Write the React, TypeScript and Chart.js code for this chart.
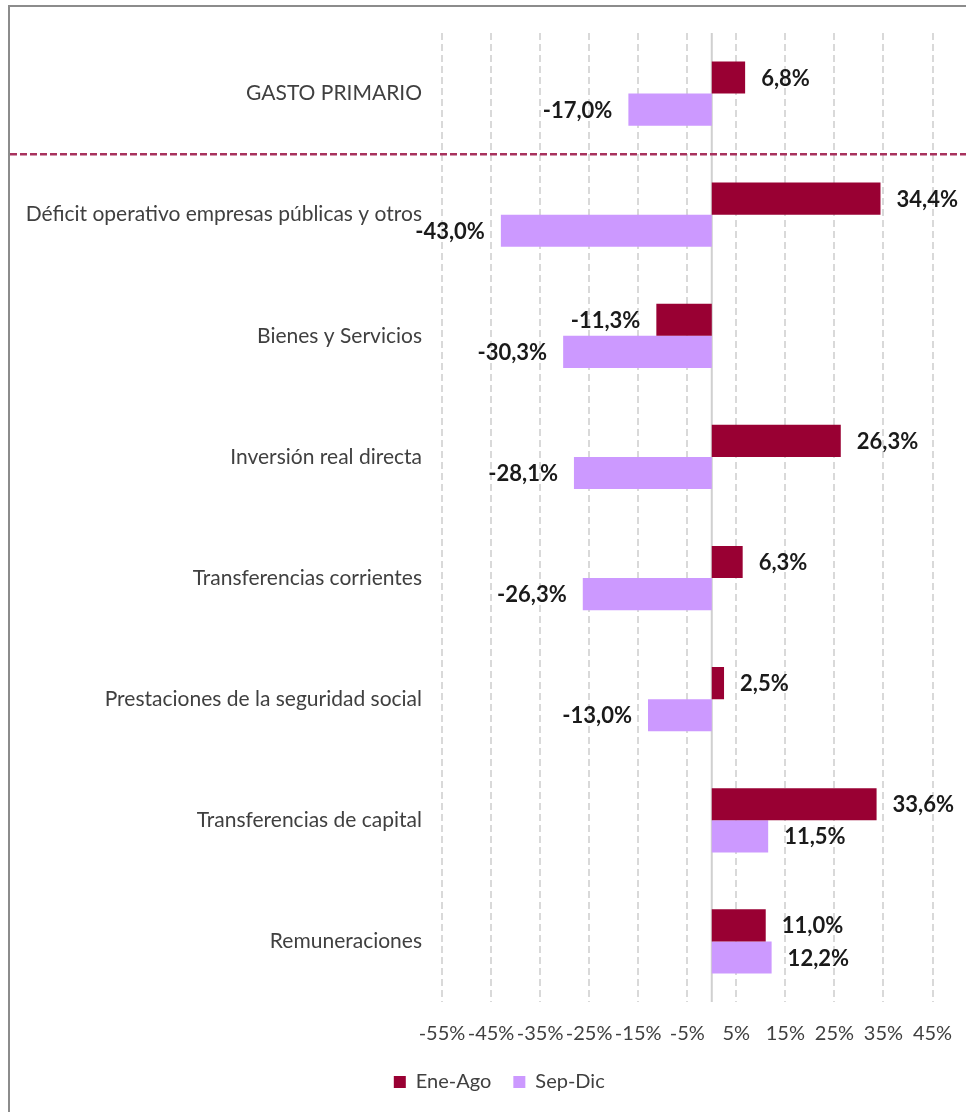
import React, { useEffect, useRef } from "react";
import { Chart, registerables } from "chart.js";

Chart.register(...registerables);

const categories = [
  "GASTO PRIMARIO",
  "Déficit operativo empresas públicas y otros",
  "Bienes y Servicios",
  "Inversión real directa",
  "Transferencias corrientes",
  "Prestaciones de la seguridad social",
  "Transferencias de capital",
  "Remuneraciones",
];
const eneAgo = [6.8, 34.4, -11.3, 26.3, 6.3, 2.5, 33.6, 11.0];
const sepDic = [-17.0, -43.0, -30.3, -28.1, -26.3, -13.0, 11.5, 12.2];
const seriesNames = ["Ene-Ago", "Sep-Dic"];
const xMin = -55;
const xMax = 45;
const xStep = 10;

const FONT = "Lato, 'Open Sans', sans-serif";
const LEGEND_SHIFT = 28;

const fmt = (v: number) => v.toFixed(1).replace(".", ",") + "%";

const overlayPlugin = {
  id: "overlay",
  afterLayout(chart: any) {
    const lg = chart.legend;
    if (lg) {
      lg.left += LEGEND_SHIFT;
      lg.right += LEGEND_SHIFT;
    }
  },
  beforeDatasetsDraw(chart: any) {
    const { ctx, chartArea, scales } = chart;
    const x0 = scales.x.getPixelForValue(0);
    ctx.save();
    ctx.strokeStyle = "#d0d0d0";
    ctx.lineWidth = 2;
    ctx.beginPath();
    ctx.moveTo(x0, chartArea.top);
    ctx.lineTo(x0, chartArea.bottom);
    ctx.stroke();
    ctx.restore();
  },
  afterDatasetsDraw(chart: any) {
    const { ctx, scales } = chart;
    const yA = scales.y.getPixelForValue(0);
    const yB = scales.y.getPixelForValue(1);
    const ySep = (yA + yB) / 2;
    ctx.save();
    ctx.strokeStyle = "#a8325e";
    ctx.lineWidth = 2.5;
    ctx.setLineDash([7, 3]);
    ctx.beginPath();
    ctx.moveTo(0, ySep);
    ctx.lineTo(chart.width, ySep);
    ctx.stroke();
    ctx.restore();

    ctx.save();
    ctx.font = `bold 22px ${FONT}`;
    ctx.fillStyle = "#1a1a1a";
    ctx.textBaseline = "middle";
    chart.data.datasets.forEach((ds: any, di: number) => {
      const meta = chart.getDatasetMeta(di);
      meta.data.forEach((bar: any, i: number) => {
        const v = ds.data[i] as number;
        const gap = 16;
        if (v >= 0) {
          ctx.textAlign = "left";
          ctx.fillText(fmt(v), bar.x + gap, bar.y + 1);
        } else {
          ctx.textAlign = "right";
          ctx.fillText(fmt(v), bar.x - gap, bar.y + 1);
        }
      });
    });
    ctx.restore();
  },
};

export default function App() {
  const ref = useRef<HTMLCanvasElement>(null);
  useEffect(() => {
    if (!ref.current) return;
    const chart = new Chart(ref.current, {
      type: "bar",
      data: {
        labels: categories,
        datasets: [
          {
            label: seriesNames[0],
            data: eneAgo,
            backgroundColor: "#990033",
            categoryPercentage: 0.53,
            barPercentage: 1,
          },
          {
            label: seriesNames[1],
            data: sepDic,
            backgroundColor: "#cc99ff",
            categoryPercentage: 0.53,
            barPercentage: 1,
          },
        ],
      },
      options: {
        indexAxis: "y",
        responsive: false,
        animation: false,
        layout: { padding: { top: 26, right: 33.5, bottom: 10, left: 0 } },
        scales: {
          x: {
            min: xMin,
            max: xMax,
            ticks: {
              stepSize: xStep,
              padding: 20,
              color: "#404040",
              font: { family: FONT, size: 20 },
              callback: (v: any) => v + "%",
              maxRotation: 0,
              autoSkip: false,
            },
            grid: {
              color: "#d9d9d9",
              lineWidth: 2,
              drawTicks: false,
            },
            border: { display: false, dash: [7, 4] },
            afterFit: (s: any) => {
              s.height = 48;
              s.paddingLeft = 0;
              s.paddingRight = 0;
            },
          },
          y: {
            ticks: {
              padding: 20,
              color: "#404040",
              font: { family: FONT, size: 21 },
            },
            grid: { display: false, drawTicks: false },
            border: { display: false },
            afterFit: (s: any) => {
              s.width = 432;
              s.paddingTop = 0;
              s.paddingBottom = 0;
            },
          },
        },
        plugins: {
          legend: {
            position: "bottom",
            labels: {
              boxWidth: 12,
              boxHeight: 12,
              padding: 22,
              color: "#404040",
              font: { family: FONT, size: 20 },
            },
          },
          tooltip: { enabled: false },
        },
      },
      plugins: [overlayPlugin],
    });
    return () => chart.destroy();
  }, []);
  return (
    <div
      style={{
        position: "absolute",
        left: 8,
        top: 5,
        width: 958,
        height: 1107,
        borderTop: "2px solid #8c8c8c",
        borderLeft: "2px solid #8c8c8c",
        background: "#fff",
      }}
    >
      <canvas ref={ref} width={956} height={1105} style={{ display: "block" }} />
    </div>
  );
}
